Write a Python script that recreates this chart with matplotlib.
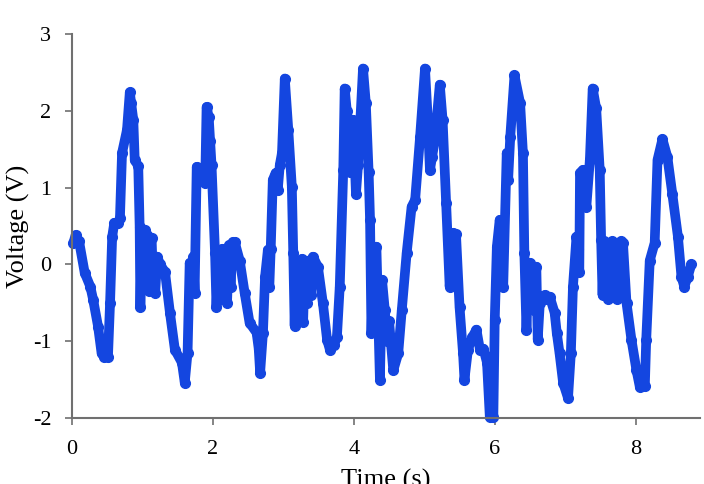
import matplotlib.pyplot as plt

# time (s) and voltage (V)
time = [0.02, 0.05, 0.10, 0.18, 0.26, 0.30, 0.37, 0.42, 0.46, 0.51, 0.54, 0.57, 0.60, 0.65, 0.68,
        0.71, 0.78, 0.82, 0.84, 0.87, 0.89, 0.94, 0.96, 0.97, 0.99, 1.01, 1.03, 1.05, 1.07, 1.09,
        1.11, 1.13, 1.15, 1.18, 1.21, 1.25, 1.32, 1.39, 1.46, 1.56, 1.60, 1.64, 1.67, 1.70, 1.72,
        1.74, 1.77, 1.80, 1.84, 1.89, 1.91, 1.94, 1.96, 1.98, 2.03, 2.05, 2.08, 2.10, 2.13, 2.15,
        2.18, 2.20, 2.23, 2.25, 2.28, 2.31, 2.38, 2.45, 2.52, 2.62, 2.65, 2.67, 2.71, 2.74, 2.78,
        2.80, 2.82, 2.85, 2.89, 2.92, 2.95, 2.98, 3.02, 3.07, 3.12, 3.14, 3.16, 3.18, 3.20, 3.22,
        3.24, 3.26, 3.28, 3.30, 3.33, 3.36, 3.39, 3.42, 3.49, 3.56, 3.62, 3.66, 3.72, 3.76, 3.80,
        3.85, 3.87, 3.90, 3.92, 3.94, 3.96, 3.99, 4.03, 4.06, 4.08, 4.13, 4.17, 4.21, 4.23, 4.25,
        4.28, 4.32, 4.35, 4.37, 4.40, 4.44, 4.47, 4.50, 4.56, 4.63, 4.68, 4.75, 4.82, 4.87, 4.94,
        5.01, 5.05, 5.08, 5.11, 5.15, 5.22, 5.26, 5.31, 5.36, 5.41, 5.45, 5.50, 5.55, 5.57, 5.62,
        5.68, 5.74, 5.79, 5.84, 5.89, 5.93, 5.98, 6.00, 6.03, 6.07, 6.10, 6.12, 6.17, 6.19, 6.22,
        6.28, 6.36, 6.40, 6.42, 6.45, 6.48, 6.50, 6.55, 6.59, 6.61, 6.64, 6.68, 6.71, 6.74, 6.78,
        6.85, 6.88, 6.92, 6.97, 7.04, 7.08, 7.11, 7.16, 7.18, 7.20, 7.21, 7.25, 7.30, 7.35, 7.39,
        7.44, 7.49, 7.51, 7.53, 7.55, 7.57, 7.59, 7.61, 7.63, 7.65, 7.67, 7.69, 7.71, 7.73, 7.75,
        7.77, 7.79, 7.82, 7.87, 7.94, 8.01, 8.06, 8.13, 8.15, 8.20, 8.27, 8.31, 8.38, 8.45, 8.52,
        8.60, 8.65, 8.69, 8.74, 8.79]
voltage = [0.28, 0.38, 0.30, -0.11, -0.29, -0.46, -0.81, -1.16, -1.21, -1.21, -0.50, 0.36, 0.54, 0.54, 0.60,
           1.45, 1.75, 2.24, 2.10, 1.88, 1.36, 1.28, 0.49, -0.56, 0.40, -0.30, 0.45, -0.20, 0.38, -0.35,
           0.30, 0.34, -0.25, -0.37, 0.10, 0.00, -0.10, -0.63, -1.11, -1.28, -1.54, -1.15, 0.02, -0.20, 0.10,
           -0.37, 1.27, 1.15, 1.25, 1.06, 2.05, 1.92, 1.60, 1.30, 0.15, -0.55, 0.10, -0.45, 0.20, -0.40,
           0.05, -0.50, 0.25, -0.30, 0.29, 0.29, 0.05, -0.37, -0.76, -0.89, -1.10, -1.41, -0.89, -0.16, 0.19,
           -0.30, 0.20, 1.10, 1.19, 0.97, 1.30, 1.45, 2.42, 1.75, 1.01, 0.15, -0.80, 0.05, -0.70, 0.00,
           -0.60, 0.07, -0.75, -0.10, -0.50, 0.05, -0.40, 0.10, -0.03, -0.50, -0.98, -1.11, -1.05, -0.94, -0.29,
           1.23, 2.29, 2.00, 1.85, 1.20, 1.60, 1.88, 0.92, 1.30, 1.66, 2.55, 2.10, 1.20, 0.58, -0.89,
           0.10, 0.23, -0.80, -1.50, -0.20, -0.60, -1.00, -0.74, -1.38, -1.16, -0.60, 0.15, 0.75, 0.84, 1.66,
           2.55, 1.88, 1.23, 1.40, 1.62, 2.34, 1.88, 0.80, -0.29, 0.41, 0.39, -0.55, -1.16, -1.50, -1.11,
           -0.95, -0.85, -1.11, -1.10, -1.28, -1.99, -1.99, -0.72, 0.23, 0.58, 0.30, -0.29, 1.45, 1.10, 1.66,
           2.46, 2.10, 1.45, 0.15, -0.85, 0.00, 0.02, -0.60, -0.03, -0.98, -0.50, -0.42, -0.40, -0.45, -0.42,
           -0.63, -0.89, -1.16, -1.54, -1.74, -1.16, -0.29, 0.36, 0.20, -0.10, 1.19, 1.23, 0.75, 1.36, 2.29,
           2.03, 1.23, 0.32, -0.40, 0.30, -0.35, 0.28, -0.45, 0.25, -0.30, 0.30, -0.40, 0.20, -0.45, 0.28,
           -0.35, 0.30, 0.28, -0.50, -0.98, -1.37, -1.60, -1.59, -0.98, 0.05, 0.28, 1.36, 1.63, 1.40, 0.92,
           0.36, -0.16, -0.29, -0.16, 0.00]

plt.rcParams['font.family'] = 'Liberation Serif'

fig = plt.figure(figsize=(7.04, 4.84), dpi=100)
ax = fig.add_axes([0.1023, 0.1364, 0.8917, 0.7934])

ax.plot(time, voltage, color='#1446e0', linewidth=7, marker='o', markersize=7,
        solid_joinstyle='round', solid_capstyle='round', clip_on=False)

ax.set_xlim(0, 8.91)
ax.set_ylim(-2, 3)
ax.set_xticks([0, 2, 4, 6, 8])
ax.set_yticks([-2, -1, 0, 1, 2, 3])
ax.set_yticklabels(['-2', '-1', '0', '1', '2', '3'])

for s in ['top', 'right']:
    ax.spines[s].set_visible(False)
for s in ['left', 'bottom']:
    ax.spines[s].set_color('#707070')
    ax.spines[s].set_linewidth(1.5)
ax.tick_params(direction='out', length=5, width=1.2, color='#707070', labelsize=16)
ax.tick_params(axis='x', pad=11)
ax.tick_params(axis='y', pad=10)

ax.set_xlabel('Time (s)', fontsize=19, labelpad=7)
ax.set_ylabel('Voltage (V)', fontsize=19, labelpad=2)

fig.savefig('out.png', dpi=100)
